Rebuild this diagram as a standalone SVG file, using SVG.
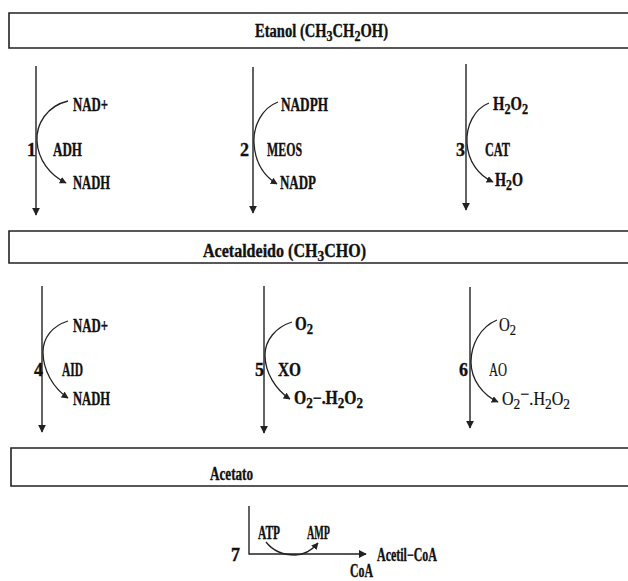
<svg xmlns="http://www.w3.org/2000/svg" width="628" height="581" viewBox="0 0 628 581">
<style>
text{font-family:"Liberation Serif","DejaVu Serif",serif;font-weight:bold;font-size:18px;fill:#111;stroke:#111;stroke-width:0.35}
.lt{font-weight:normal;stroke-width:0.2}
.s{font-size:15px;baseline-shift:-4px}
.box{fill:none;stroke:#222;stroke-width:1.6}
.ln{fill:none;stroke:#222;stroke-width:1.4}
.cv{fill:none;stroke:#222;stroke-width:1.3}
</style>
<defs>
<marker id="ah" viewBox="0 0 10 10" refX="9" refY="5" markerWidth="8" markerHeight="8" markerUnits="userSpaceOnUse" orient="auto">
<path d="M0,0 L10,5 L0,10 z" fill="#222"/>
</marker>
<marker id="ah2" viewBox="0 0 10 10" refX="9" refY="5" markerWidth="7" markerHeight="7" markerUnits="userSpaceOnUse" orient="auto">
<path d="M0,0 L10,5 L0,10 z" fill="#222"/>
</marker>
</defs>
<rect width="628" height="581" fill="#fff"/>

<g id="etanol">
<path class="box" d="M628,13 H9 V48 H628"/>
<text x="255" y="37" textLength="133" lengthAdjust="spacingAndGlyphs">Etanol (CH<tspan class="s">3</tspan>CH<tspan class="s">2</tspan>OH)</text>
</g>

<g id="acetaldeido">
<path class="box" d="M628,231 H9 V263 H628"/>
<text x="203" y="257" textLength="163" lengthAdjust="spacingAndGlyphs">Acetaldeido (CH<tspan class="s">3</tspan>CHO)</text>
</g>

<g id="acetato">
<path class="box" d="M628,448 H11 V486 H628"/>
<text x="210" y="480" textLength="43" lengthAdjust="spacingAndGlyphs">Acetato</text>
</g>

<g id="connectors">
<line class="ln" x1="36" y1="66" x2="36" y2="215" marker-end="url(#ah)"/>
<line class="ln" x1="253" y1="67" x2="253" y2="213" marker-end="url(#ah)"/>
<line class="ln" x1="466" y1="64" x2="466" y2="210" marker-end="url(#ah)"/>
<line class="ln" x1="42" y1="286" x2="42" y2="432" marker-end="url(#ah)"/>
<line class="ln" x1="264" y1="286" x2="264" y2="433" marker-end="url(#ah)"/>
<line class="ln" x1="470" y1="287" x2="470" y2="428" marker-end="url(#ah)"/>
<path class="cv" d="M68,101 C47,106 36,124 37,141 C38,160 50,175 66,183" marker-end="url(#ah2)"/>
<path class="cv" d="M278,102 C262,108 253,126 254,143 C255,162 264,176 277,184" marker-end="url(#ah2)"/>
<path class="cv" d="M489,103 C474,109 466,126 467,143 C468,161 478,175 493,182" marker-end="url(#ah2)"/>
<path class="cv" d="M68,321 C52,326 43,338 43,352 C43,370 53,388 68,398" marker-end="url(#ah2)"/>
<path class="cv" d="M292,322 C276,327 265,340 265,355 C265,373 276,390 290,399" marker-end="url(#ah2)"/>
<path class="cv" d="M497,320 C480,327 471,345 471,362 C471,380 483,395 498,402" marker-end="url(#ah2)"/>
<polyline class="ln" points="249,506 249,554 366,554" marker-end="url(#ah)"/>
<path class="cv" d="M266,542 C273,551 284,555 295,555 C305,555 312,550 318,543" marker-end="url(#ah2)"/>
</g>

<g id="step1">
<text x="73" y="111" textLength="35" lengthAdjust="spacingAndGlyphs">NAD+</text>
<text x="27" y="156">1</text>
<text x="53" y="156" textLength="29" lengthAdjust="spacingAndGlyphs">ADH</text>
<text x="73" y="189" textLength="37" lengthAdjust="spacingAndGlyphs">NADH</text>
</g>
<g id="step2">
<text x="281" y="111" textLength="47" lengthAdjust="spacingAndGlyphs">NADPH</text>
<text x="240" y="156">2</text>
<text x="267" y="156" textLength="35" lengthAdjust="spacingAndGlyphs">MEOS</text>
<text x="280" y="189" textLength="36" lengthAdjust="spacingAndGlyphs">NADP</text>
</g>
<g id="step3">
<text x="493" y="110" textLength="35" lengthAdjust="spacingAndGlyphs">H<tspan class="s">2</tspan>O<tspan class="s">2</tspan></text>
<text x="456" y="156">3</text>
<text x="485" y="156" textLength="25" lengthAdjust="spacingAndGlyphs">CAT</text>
<text x="495" y="186" textLength="28" lengthAdjust="spacingAndGlyphs">H<tspan class="s">2</tspan>O</text>
</g>
<g id="step4">
<text x="73" y="332" textLength="35" lengthAdjust="spacingAndGlyphs">NAD+</text>
<text x="34" y="376">4</text>
<text x="62" y="376" textLength="21" lengthAdjust="spacingAndGlyphs">AID</text>
<text x="73" y="405" textLength="37" lengthAdjust="spacingAndGlyphs">NADH</text>
</g>
<g id="step5">
<text x="295" y="330" textLength="18" lengthAdjust="spacingAndGlyphs">O<tspan class="s">2</tspan></text>
<text x="255" y="376">5</text>
<text x="278" y="376" textLength="23" lengthAdjust="spacingAndGlyphs">XO</text>
<text x="294" y="404" textLength="69" lengthAdjust="spacingAndGlyphs">O<tspan class="s">2</tspan>−.H<tspan class="s">2</tspan>O<tspan class="s">2</tspan></text>
</g>
<g id="step6">
<text x="499" y="331" textLength="17" lengthAdjust="spacingAndGlyphs" class="lt">O<tspan class="s">2</tspan></text>
<text x="459" y="376">6</text>
<text x="489" y="376" textLength="18" lengthAdjust="spacingAndGlyphs" class="lt">AO</text>
<text x="502" y="405" textLength="68" lengthAdjust="spacingAndGlyphs" class="lt">O<tspan class="s">2</tspan><tspan baseline-shift="5">−</tspan>.H<tspan class="s">2</tspan>O<tspan class="s">2</tspan></text>
</g>
<g id="step7">
<text x="231" y="561">7</text>
<text x="258" y="539" textLength="22" lengthAdjust="spacingAndGlyphs">ATP</text>
<text x="307" y="539" textLength="23" lengthAdjust="spacingAndGlyphs">AMP</text>
<text x="377" y="561" textLength="60" lengthAdjust="spacingAndGlyphs">Acetil−CoA</text>
<text x="350" y="577" textLength="23" lengthAdjust="spacingAndGlyphs">CoA</text>
</g>
</svg>
